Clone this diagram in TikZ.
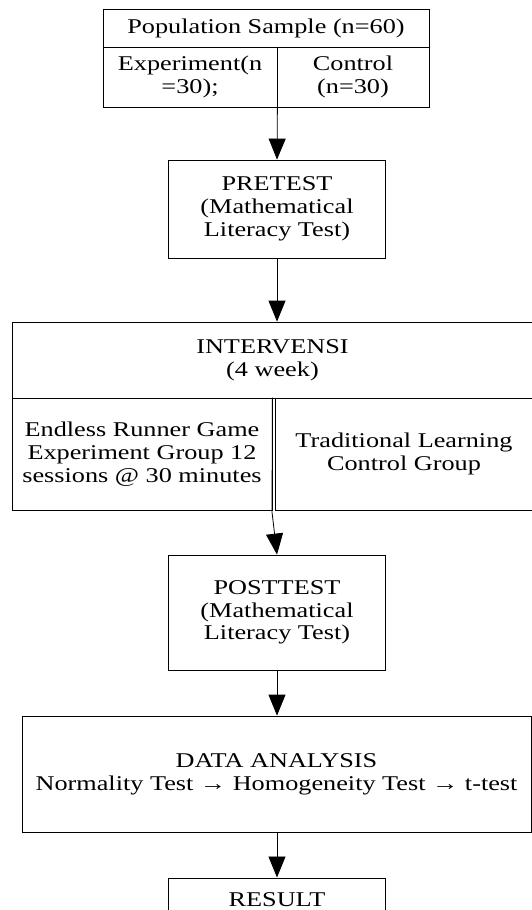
\documentclass[tikz,border=0pt]{standalone}
\usepackage{fontspec}
\setmainfont{Liberation Serif}[FakeStretch=1.25]
\usetikzlibrary{arrows.meta}
\begin{document}
\begin{tikzpicture}[x=1pt,y=-1pt,
  box/.style={draw=black, line width=0.8pt, rectangle, inner sep=0pt, align=center,
              font=\fontsize{21}{22.8}\selectfont},
  arr/.style={draw=black, line width=0.8pt, -{Triangle[length=21pt,width=17pt]}}]
\useasboundingbox (0,0) rectangle (532,910);
% top box
\node[box, minimum width=326pt, minimum height=38pt] (pop) at (266,28) {Population Sample (n=60)};
\node[box, minimum width=174pt, minimum height=60pt] (exp) at (190,77) {Experiment(n\\=30);};
\node[box, minimum width=152pt, minimum height=60pt] (ctl) at (353,77) {Control\\(n=30)};
% pretest
\node[box, minimum width=217pt, minimum height=98pt] (pre) at (277,209) {PRETEST\\(Mathematical\\Literacy Test)};
% intervention
\node[box, minimum width=521pt, minimum height=76pt] (inv) at (272.5,360) {INTERVENSI\\(4 week)};
\node[box, minimum width=260pt, minimum height=112pt] (evl) at (142,454) {Endless Runner Game\\Experiment Group 12\\sessions @ 30 minutes};
\node[box, minimum width=258pt, minimum height=112pt] (tvl) at (404,454) {Traditional Learning\\Control Group};
% posttest
\node[box, minimum width=217pt, minimum height=115pt] (post) at (277,612.5) {POSTTEST\\(Mathematical\\Literacy Test)};
% data analysis
\node[box, minimum width=509pt, minimum height=116pt] (da) at (276.5,774) {DATA ANALYSIS\\Normality Test → Homogeneity Test → t-test};
% result
\node[box, minimum width=217pt, text height=28.5pt, text depth=30pt, anchor=north] (res) at (277,877.5) {RESULT};
% connectors
\draw[arr] (exp.south east) -- (pre.north);
\draw[arr] (pre.south) -- (pre.south |- inv.north);
\coordinate (bend) at (272,512);
\draw[arr] (evl.north east) -- (bend) -- (post.north);
\draw[arr] (post.south) -- (post.south |- da.north);
\draw[arr] (post.south |- da.south) -- (res.north);
\end{tikzpicture}
\end{document}
